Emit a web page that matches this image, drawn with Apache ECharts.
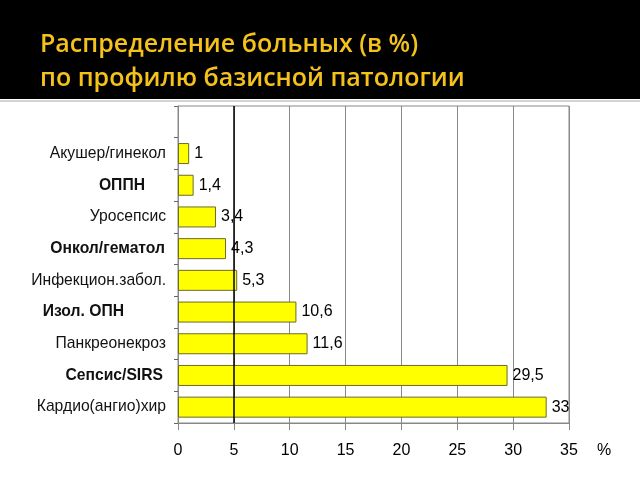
<!DOCTYPE html>
<html>
<head>
<meta charset="utf-8">
<script src="https://cdn.jsdelivr.net/npm/echarts@6/dist/echarts.min.js"></script>
<style>html,body{margin:0;padding:0;background:#fff}#c{width:640px;height:480px}</style>
</head>
<body>
<div id="c"></div>
<script>
var categories = ['Акушер/гинекол', 'ОППН', 'Уросепсис', 'Онкол/гематол', 'Инфекцион.забол.', 'Изол. ОПН', 'Панкреонекроз', 'Сепсис/SIRS', 'Кардио(ангио)хир'];
var values = [1, 1.4, 3.4, 4.3, 5.3, 10.6, 11.6, 29.5, 33];
var xTicks = [0, 5, 10, 15, 20, 25, 30, 35];
var boldCategories = ['ОППН', 'Онкол/гематол', 'Изол. ОПН', 'Сепсис/SIRS'];

var richPad = { 'ОППН': 'b21', 'Онкол/гематол': 'b1', 'Изол. ОПН': 'b42', 'Сепсис/SIRS': 'b3' };

var LBL = 15.7;
function boldStyle(pad) {
  return { fontFamily: 'Liberation Sans', fontWeight: 'bold', fontSize: LBL, color: '#111', padding: [0, pad, 0, 0] };
}

var chart = echarts.init(document.getElementById('c'), null, { renderer: 'canvas' });
var option = {
  backgroundColor: '#ffffff',
  animation: false,
  title: {
    text: 'Распределение больных (в %)\nпо профилю базисной патологии',
    left: 40, top: 28, padding: 0,
    textStyle: { color: '#F5C21B', fontFamily: 'Open Sans', fontWeight: 600, fontSize: 25, lineHeight: 34 }
  },
  graphic: [
    { type: 'rect', z: -10, shape: { x: 0, y: 0, width: 640, height: 99 }, style: { fill: '#000' } },
    { type: 'rect', z: -10, shape: { x: 0, y: 100, width: 640, height: 2 }, style: { fill: '#d4d4d4' } }
  ],
  grid: { left: 178, right: 71, top: 106, bottom: 57, show: true, borderColor: '#888', borderWidth: 1, backgroundColor: 'transparent' },
  xAxis: {
    type: 'value', min: 0, max: 35, interval: 5,
    name: '%', nameLocation: 'end', nameGap: 28,
    nameTextStyle: { color: '#000', fontFamily: 'Liberation Sans', fontSize: 16, verticalAlign: 'top', padding: [20, 0, 0, 0] },
    axisLine: { show: true, lineStyle: { color: '#888', width: 1 } },
    axisTick: { show: true, length: 7, lineStyle: { color: '#888' } },
    axisLabel: { color: '#000', fontFamily: 'Liberation Sans', fontSize: 16, margin: 20,
      formatter: function (v) { return xTicks.indexOf(v) >= 0 ? String(v) : ''; } },
    splitLine: { show: true, lineStyle: { color: '#888', width: 1 } }
  },
  yAxis: {
    type: 'category', inverse: true,
    data: [''].concat(categories),
    axisLine: { show: true, lineStyle: { color: '#888', width: 1 } },
    axisTick: { show: true, length: 4, lineStyle: { color: '#666' } },
    axisLabel: {
      margin: 12, color: '#000', fontFamily: 'Liberation Sans', fontSize: LBL, interval: 0,
      formatter: function (v) {
        if (boldCategories.indexOf(v) >= 0) return '{' + richPad[v] + '|' + v + '}';
        return '{r|' + v + '}';
      },
      rich: {
        r: { fontFamily: 'Liberation Sans', fontSize: LBL, color: '#111' },
        b1: boldStyle(1),
        b3: boldStyle(3),
        b21: boldStyle(21),
        b42: boldStyle(42)
      }
    },
    splitLine: { show: false }
  },
  series: [{
    type: 'bar',
    data: ['-'].concat(values),
    barWidth: 21,
    itemStyle: { color: '#FFFF00', borderColor: '#6b6b2a', borderWidth: 1 },
    label: {
      show: true, position: 'right', distance: 5, color: '#000',
      fontFamily: 'Liberation Sans', fontSize: 16,
      formatter: function (p) { return String(p.value).replace('.', ','); }
    },
    markLine: {
      silent: true, symbol: 'none', animation: false,
      label: { show: false },
      lineStyle: { color: '#000', width: 1.5, type: 'solid' },
      data: [{ xAxis: 5 }]
    }
  }]
};
chart.setOption(option);
</script>
</body>
</html>
